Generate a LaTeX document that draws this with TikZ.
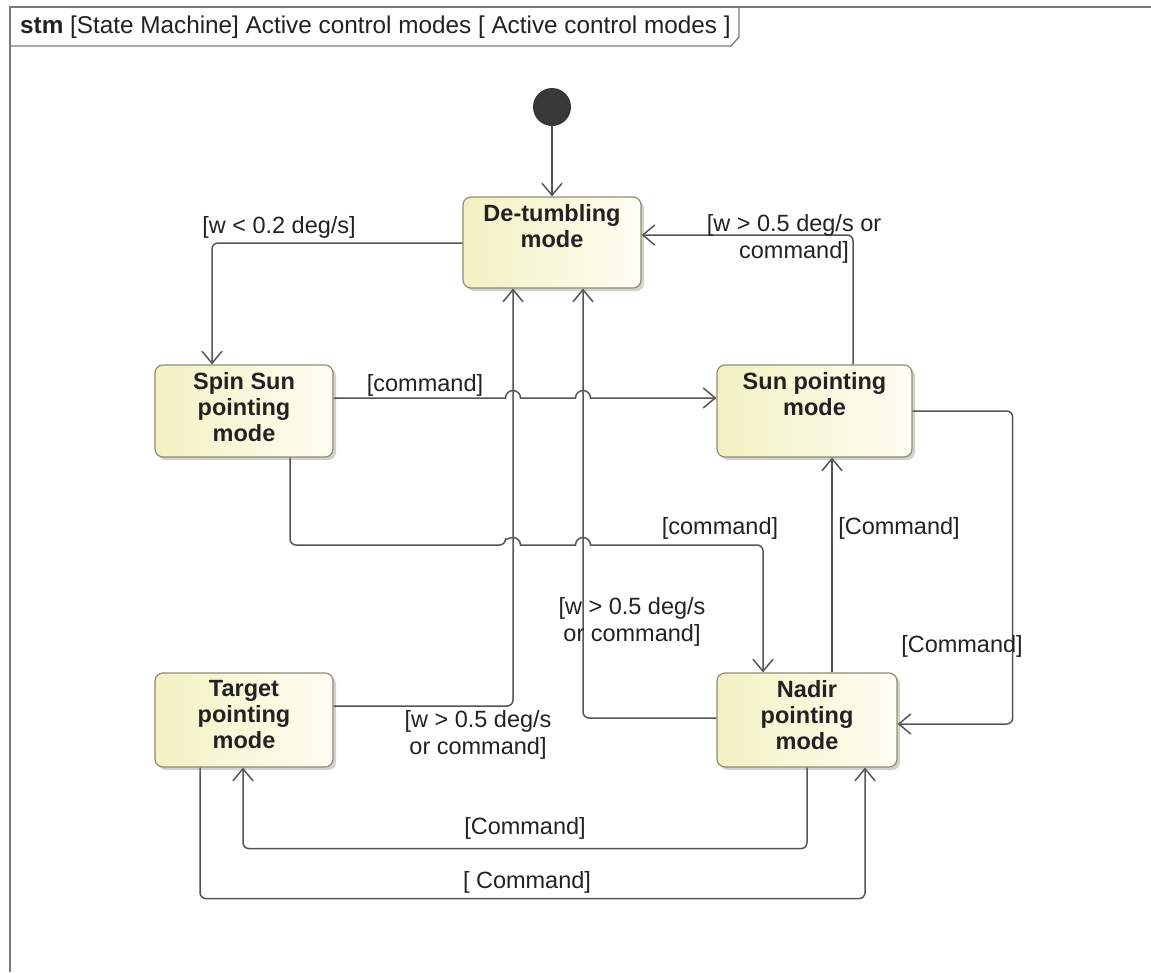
\documentclass[tikz,border=0pt]{standalone}
\usepackage{fontspec}
\setmainfont{Liberation Sans}
\usetikzlibrary{arrows.meta,shadows,calc}

\definecolor{wire}{HTML}{555555}
\definecolor{boxedge}{HTML}{8E8E72}
\definecolor{boxleft}{HTML}{F3F1C2}
\definecolor{boxright}{HTML}{FEFEF4}
\definecolor{ink}{HTML}{222222}
\definecolor{framegray}{HTML}{7A7A7A}
\definecolor{initfill}{HTML}{383838}

\begin{document}
\begin{tikzpicture}[x=1pt,y=-1pt,
  state/.style={draw=boxedge, line width=1.2pt, rounded corners=8pt,
    left color=boxleft, right color=boxright,
    drop shadow={shadow xshift=3pt, shadow yshift=-3pt, fill=black!40, opacity=0.45},
    minimum width=178pt, minimum height=92pt, inner sep=0pt},
  stext/.style={anchor=north, align=center, text=ink, inner sep=0pt, yshift=-8pt,
    font=\fontsize{23.5}{26}\selectfont\bfseries},
  guard/.style={align=center, text=ink, inner sep=0pt,
    font=\fontsize{23.5}{27}\selectfont},
  trans/.style={draw=wire, line width=1.5pt, rounded corners=6pt,
    -{Straight Barb[length=12pt,width=20pt,line width=1.5pt]}},
  hop/.style={start angle=180, end angle=0, radius=7.5pt},
]
\useasboundingbox (0,0) rectangle (1151,972);
\fill[white] (0,0) rectangle (1151,972);

% diagram frame and its name tab
\draw[framegray, line width=2pt] (10,972) -- (10,7) -- (1151,7);
\draw[framegray, line width=1.3pt] (10,46) -- (731,46) -- (739,37) -- (739,7);
\node[anchor=west, text=ink, inner sep=0pt, font=\fontsize{24.3}{27}\selectfont] (hdr) at (20,27)
  {\textbf{stm} [State Machine] Active control modes [ Active control modes ]};

% initial pseudostate
\node[circle, fill=initfill, minimum size=38pt, inner sep=0pt] (init) at (552,107) {};

% states
\node[state, minimum height=91pt] (det) at (552,242.5) {};
\node[state] (ss) at (244,411) {};
\node[state, minimum width=195pt] (sun) at (814.5,411) {};
\node[state, minimum height=94pt] (tgt) at (244,720) {};
\node[state, minimum width=180pt, minimum height=94pt] (nad) at (807,720) {};

\node[stext] (detT) at (det.north) {De-tumbling\\mode};
\node[stext] (ssT) at (ss.north) {Spin Sun\\pointing\\mode};
\node[stext] (sunT) at (sun.north) {Sun pointing\\mode};
\node[stext] (tgtT) at (tgt.north) {Target\\pointing\\mode};
\node[stext] (nadT) at (nad.north) {Nadir\\pointing\\mode};

% transitions (horizontal runs hop over the vertical ones)
\draw[trans] (init.south) -- (det.north);
\draw[trans] ($(det.west)+(0,0.5)$) -| ($(ss.north)+(-32,0)$);
\draw[trans] ($(sun.north)+(38.5,0)$) |- ($(det.east)+(0,-7.5)$);
\draw[trans, sharp corners] ($(ss.east)+(0,-13)$) -- (505.5,398) arc[hop] -- (575.5,398) arc[hop]
  -- ($(sun.west)+(0,-13)$);
\draw[trans] ($(ss.south)+(46,0)$) |- (505.5,545) [sharp corners] arc[hop] -- (575.5,545) arc[hop]
  -- (620,545) [rounded corners=6pt] -| ($(nad.north)+(-44,0)$);
\draw[trans] ($(tgt.east)+(0,-14)$) -| ($(det.south)+(-39,0)$);
\draw[trans] ($(nad.west)+(0,-2)$) -| ($(det.south)+(31,0)$);
\draw[trans] ($(nad.north)+(25,0)$) -- ($(sun.south)+(17.5,0)$);
\draw[trans] (sun.east) -- ($(sun.east)+(100,0)$) |- ($(nad.east)+(0,4)$);
\draw[trans] (nad.south) -- ++(0,81) -| ($(tgt.south)+(-1,0)$);
\draw[trans] ($(tgt.south)+(-44,0)$) -- ++(0,131) -| ($(nad.south)+(58,0)$);

% guards
\node[guard] (g1) at (279,227) {[w < 0.2 deg/s]};
\node[guard] (g2) at (794,239) {[w > 0.5 deg/s or\\command]};
\node[guard] (g3) at (425,385) {[command]};
\node[guard] (g4) at (720,528) {[command]};
\node[guard] (g5) at (478,735) {[w > 0.5 deg/s\\or command]};
\node[guard] (g6) at (632,622) {[w > 0.5 deg/s\\or command]};
\node[guard] (g7) at (899,528) {[Command]};
\node[guard] (g8) at (962,646) {[Command]};
\node[guard] (g9) at (525,828) {[Command]};
\node[guard] (g10) at (527,882) {[ Command]};
\end{tikzpicture}
\end{document}
